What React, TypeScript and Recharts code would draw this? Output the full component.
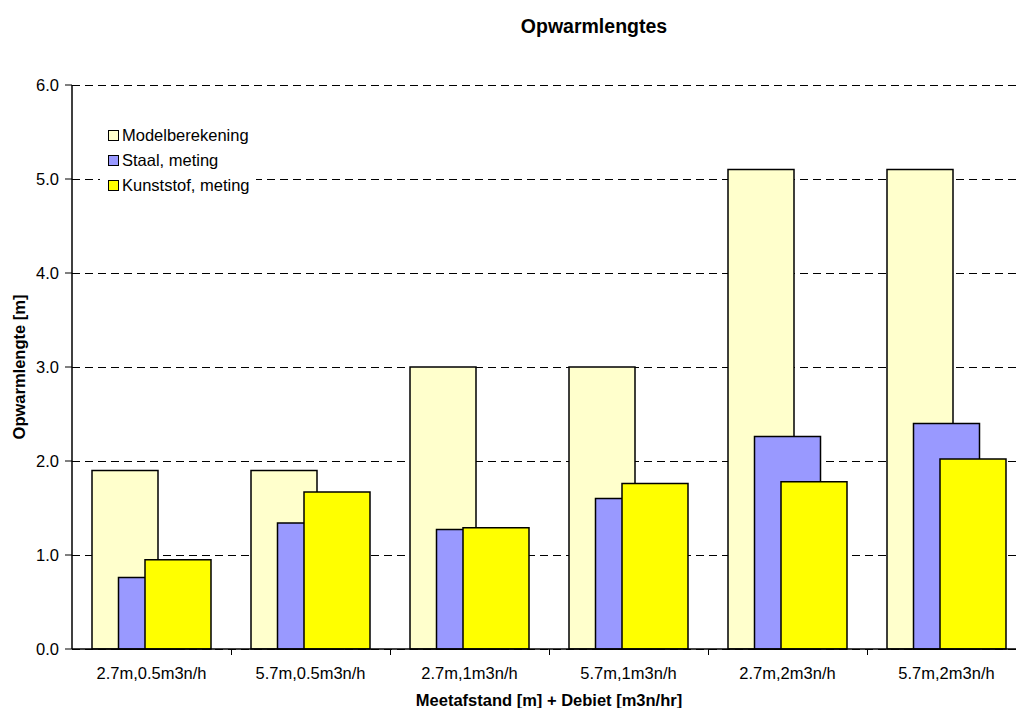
import React from 'react';
import { BarChart, Bar, XAxis, YAxis, CartesianGrid, Legend, Label } from 'recharts';

// Warming lengths per measuring distance + flow rate
const categories = [
  '2.7m,0.5m3n/h',
  '5.7m,0.5m3n/h',
  '2.7m,1m3n/h',
  '5.7m,1m3n/h',
  '2.7m,2m3n/h',
  '5.7m,2m3n/h',
];
const modelValues = [1.9, 1.9, 3.0, 3.0, 5.1, 5.1];
const staalValues = [0.76, 1.34, 1.27, 1.6, 2.26, 2.4];
const kunststofValues = [0.95, 1.67, 1.29, 1.76, 1.78, 2.02];
const yTicks = [0, 1, 2, 3, 4, 5, 6];

const seriesNames = ['Modelberekening', 'Staal, meting', 'Kunststof, meting'];
const seriesColors = ['#FFFFCC', '#9999FF', '#FFFF00'];

const data = categories.map((name, i) => ({
  name,
  model: modelValues[i],
  staal: staalValues[i],
  kunststof: kunststofValues[i],
}));

const FONT = "Arial, 'Liberation Sans', sans-serif";
const CHART_W = 1040;
const CHART_H = 708;
const MARGIN = { top: 85, right: 14, left: 12, bottom: 29 };
const Y_AXIS_W = 60;
const PLOT_W = CHART_W - MARGIN.left - MARGIN.right - Y_AXIS_W;
const BAND = PLOT_W / categories.length;

function CategoryTick(props: any) {
  const { x, y, payload, index } = props;
  return (
    <g>
      {index > 0 && (
        <line
          x1={Math.round(x - BAND / 2) + 0.5}
          x2={Math.round(x - BAND / 2) + 0.5}
          y1={y}
          y2={y + 6}
          stroke="#000"
          strokeWidth={1}
        />
      )}
      <text x={x} y={y + 30} textAnchor="middle" fontFamily={FONT} fontSize={16.5} fill="#000">
        {payload.value}
      </text>
    </g>
  );
}

function LegendBox(props: any) {
  const payload = [...(props.payload || [])].sort(
    (a: any, b: any) => seriesNames.indexOf(a.value) - seriesNames.indexOf(b.value)
  );
  return (
    <div
      style={{
        fontFamily: FONT,
        fontSize: 16.5,
        color: '#000',
        background: '#fff',
        padding: '0 0 0 8px',
        width: 148,
      }}
    >
      {payload.map((p: any, i: number) => (
        <div key={i} style={{ display: 'flex', alignItems: 'center', height: 25, whiteSpace: 'nowrap' }}>
          <span
            style={{
              display: 'inline-block',
              width: 9,
              height: 9,
              border: '1.5px solid #000',
              background: p.color,
              marginRight: 3,
            }}
          />
          <span>{p.value}</span>
        </div>
      ))}
    </div>
  );
}

export default function App() {
  return (
    <div
      style={{
        position: 'fixed',
        left: 0,
        top: 0,
        width: 1016,
        height: 708,
        overflow: 'hidden',
        background: '#fff',
      }}
    >
      <div
        style={{
          position: 'absolute',
          left: 444,
          width: 300,
          top: 15,
          textAlign: 'center',
          fontFamily: FONT,
          fontWeight: 'bold',
          fontSize: 19.5,
          lineHeight: '22px',
          color: '#000',
        }}
      >
        Opwarmlengtes
      </div>
      <div style={{ position: 'absolute', left: 0, top: 0 }}>
        <BarChart
          width={CHART_W}
          height={CHART_H}
          data={data}
          margin={MARGIN}
          barSize={66}
          barGap={-39.5}
        >
          <CartesianGrid
            horizontal
            vertical={false}
            stroke="#000"
            strokeWidth={1}
            strokeDasharray="8 5"
            shapeRendering="crispEdges"
          />
          <XAxis
            dataKey="name"
            height={30}
            axisLine={{ stroke: '#000', strokeWidth: 1.5 }}
            tickLine={false}
            tickSize={0}
            tickMargin={0}
            tick={<CategoryTick />}
            interval={0}
          >
            <Label
              content={() => (
                <text
                  x={MARGIN.left + Y_AXIS_W + PLOT_W / 2}
                  y={706}
                  textAnchor="middle"
                  fontFamily={FONT}
                  fontWeight="bold"
                  fontSize={16.5}
                  fill="#000"
                >
                  Meetafstand [m] + Debiet [m3n/hr]
                </text>
              )}
            />
          </XAxis>
          <YAxis
            width={Y_AXIS_W}
            domain={[0, 6]}
            ticks={yTicks}
            interval={0}
            tickFormatter={(v: number) => v.toFixed(1)}
            axisLine={{ stroke: '#000', strokeWidth: 1.5 }}
            tickLine={{ stroke: '#000' }}
            tickSize={7}
            tickMargin={6}
            tick={{ fill: '#000', fontFamily: FONT, fontSize: 16.5 }}
          >
            <Label
              content={(p: any) => {
                const vb = p.viewBox || { y: 85, height: 564 };
                const cy = vb.y + vb.height / 2;
                return (
                  <text
                    x={19}
                    y={cy}
                    transform={`rotate(-90, 19, ${cy})`}
                    textAnchor="middle"
                    dominantBaseline="central"
                    fontFamily={FONT}
                    fontWeight="bold"
                    fontSize={16.5}
                    fill="#000"
                  >
                    Opwarmlengte [m]
                  </text>
                );
              }}
            />
          </YAxis>
          <Legend
            layout="vertical"
            align="center"
            verticalAlign="middle"
            content={<LegendBox />}
            wrapperStyle={{ left: 100, top: 123, width: 156, height: 75 }}
          />
          <Bar dataKey="model" name={seriesNames[0]} fill={seriesColors[0]} stroke="#000" strokeWidth={1.5} isAnimationActive={false} />
          <Bar dataKey="staal" name={seriesNames[1]} fill={seriesColors[1]} stroke="#000" strokeWidth={1.5} isAnimationActive={false} />
          <Bar dataKey="kunststof" name={seriesNames[2]} fill={seriesColors[2]} stroke="#000" strokeWidth={1.5} isAnimationActive={false} />
        </BarChart>
      </div>
    </div>
  );
}
